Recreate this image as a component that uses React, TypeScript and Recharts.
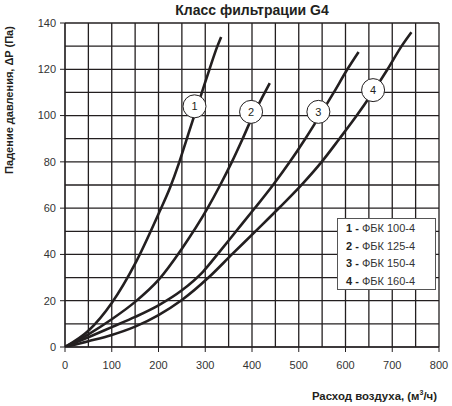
import React from 'react';
import { LineChart, Line, XAxis, YAxis, ReferenceLine, ReferenceDot } from 'recharts';

const FLOW_TICKS = [0, 100, 200, 300, 400, 500, 600, 700, 800];
const PRESSURE_TICKS = [0, 20, 40, 60, 80, 100, 120, 140];
const FLOW_GRID = [0, 50, 100, 150, 200, 250, 300, 350, 400, 450, 500, 550, 600, 650, 700, 750, 800];
const PRESSURE_GRID = [0, 10, 20, 30, 40, 50, 60, 70, 80, 90, 100, 110, 120, 130, 140];

const SERIES_NUMBERS = ['1', '2', '3', '4'];
const SERIES_NAMES = ['ФБК 100-4', 'ФБК 125-4', 'ФБК 150-4', 'ФБК 160-4'];

const c1Flow = [0, 50, 100, 150, 200, 225, 243, 259, 275, 292, 309, 326, 334];
const c1Drop = [0, 7, 19, 36, 57.5, 69, 79, 89, 99, 109.5, 120, 130, 134];

const c2Flow = [0, 50, 100, 150, 200, 250, 305, 332, 357, 380, 402, 421, 438];
const c2Drop = [0, 5.5, 12, 19.5, 29, 42.5, 60, 70, 80, 90, 100, 107.5, 114];

const c3Flow = [0, 50, 100, 150, 200, 250, 295, 330, 366, 404, 445, 481, 514, 545, 575, 604, 628];
const c3Drop = [0, 4.2, 8.6, 13, 18, 24.5, 32.5, 41, 50, 59.5, 70, 80, 90, 100, 110, 120, 127.5];

const c4Flow = [0, 50, 100, 150, 200, 250, 307, 357, 410, 460, 508, 549, 587, 624, 658, 690, 720, 741];
const c4Drop = [0, 2.5, 5.2, 8.8, 13.8, 20.3, 30, 40, 50.5, 60.5, 70.5, 80, 90, 100, 110, 120, 130, 136];

const MARKER_FLOW = [277, 398, 542, 659];
const MARKER_DROP = [104, 101.6, 101.6, 111];

const toPoints = (xs: number[], ys: number[]) => xs.map((x, i) => ({ x, y: ys[i] }));
const SERIES = [
  toPoints(c1Flow, c1Drop),
  toPoints(c2Flow, c2Drop),
  toPoints(c3Flow, c3Drop),
  toPoints(c4Flow, c4Drop),
];

const FONT = '"Liberation Sans", Arial, sans-serif';
const INK = '#231f20';

const YLabel = () => (
  <text
    x={0}
    y={0}
    transform="translate(13, 100) rotate(-90)"
    textAnchor="middle"
    fontFamily={FONT}
    fontWeight="bold"
    fontSize={11}
    fill={INK}
  >
    Падение давления, ΔP (Па)
  </text>
);

const XLabel = (props: any) => {
  const vb = props.viewBox || { x: 0, y: 0, width: 0, height: 0 };
  return (
    <text
      x={vb.x + vb.width - 2}
      y={vb.y + 53}
      textAnchor="end"
      fontFamily={FONT}
      fontWeight="bold"
      fontSize={11.4}
      fill={INK}
    >
      Расход воздуха, (м
      <tspan fontSize={7} dy={-5}>3</tspan>
      <tspan dy={5}>/ч)</tspan>
    </text>
  );
};

export default function App() {
  return (
    <div style={{ position: 'absolute', left: 0, top: 0, width: 452, height: 406, background: '#fff', fontFamily: FONT }}>
      <div
        style={{
          position: 'absolute',
          left: 65,
          width: 374,
          top: 2,
          textAlign: 'center',
          fontSize: 14,
          fontWeight: 'bold',
          color: INK,
          lineHeight: '16px',
        }}
      >
        Класс фильтрации G4
      </div>
      <LineChart
        width={452}
        height={406}
        margin={{ top: 23, right: 13, left: 0, bottom: 0 }}
        style={{ position: 'absolute', left: 0, top: 0 }}
      >
        <XAxis
          type="number"
          dataKey="x"
          domain={[0, 800]}
          ticks={FLOW_TICKS}
          allowDataOverflow
          height={59}
          tickSize={5}
          tickMargin={9}
          tick={{ fontSize: 11, fill: '#333', fontFamily: FONT }}
          stroke={INK}
          label={{ content: (p: any) => <XLabel {...p} /> }}
        />
        <YAxis
          type="number"
          domain={[0, 140]}
          ticks={PRESSURE_TICKS}
          allowDataOverflow
          width={65}
          tickSize={5}
          tickMargin={4}
          tick={{ fontSize: 11, fill: '#333', fontFamily: FONT }}
          stroke={INK}
          label={{ content: () => <YLabel /> }}
        />
        {FLOW_GRID.map((v) => (
          <ReferenceLine key={'vx' + v} x={v} stroke={INK} strokeWidth={1.3} />
        ))}
        {PRESSURE_GRID.map((v) => (
          <ReferenceLine key={'hy' + v} y={v} stroke={INK} strokeWidth={1.3} />
        ))}
        {SERIES.map((data, i) => (
          <Line
            key={SERIES_NAMES[i]}
            data={data}
            dataKey="y"
            name={SERIES_NAMES[i]}
            type="monotone"
            stroke={INK}
            strokeWidth={2.6}
            dot={false}
            isAnimationActive={false}
          />
        ))}
        {SERIES_NUMBERS.map((n, i) => (
          <ReferenceDot
            key={'m' + n}
            x={MARKER_FLOW[i]}
            y={MARKER_DROP[i]}
            r={11.5}
            fill="#fff"
            stroke={INK}
            strokeWidth={1}
            label={{ value: n, position: 'center', fill: INK, fontSize: 11, fontFamily: FONT }}
          />
        ))}
      </LineChart>
      <div
        style={{
          position: 'absolute',
          left: 337,
          top: 218,
          width: 89,
          height: 69,
          border: '1.5px solid #555',
          background: '#fff',
          paddingTop: 1,
          paddingLeft: 8,
          boxSizing: 'content-box',
          fontSize: 11,
          color: '#333',
        }}
      >
        {SERIES_NAMES.map((name, i) => (
          <div key={name} style={{ lineHeight: '17.6px', whiteSpace: 'nowrap' }}>
            <b style={{ color: INK }}>{SERIES_NUMBERS[i]} -</b> {name}
          </div>
        ))}
      </div>
    </div>
  );
}
